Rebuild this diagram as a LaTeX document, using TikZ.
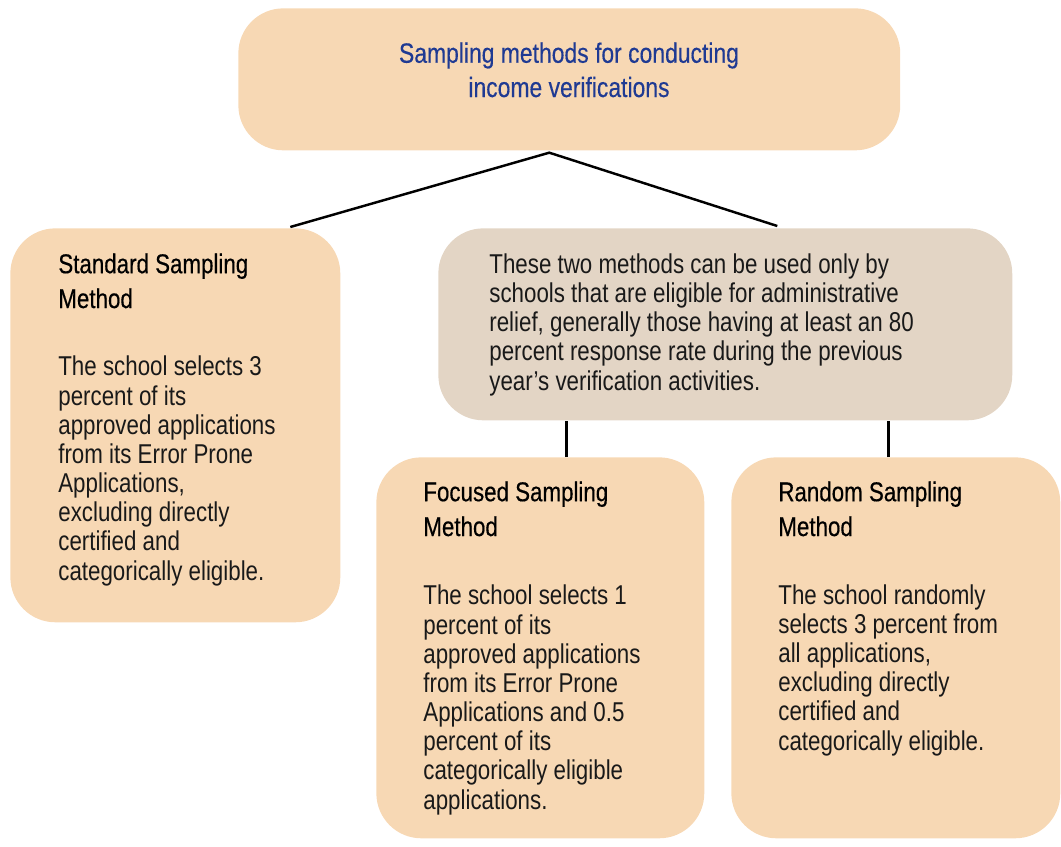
\documentclass[tikz,border=0pt]{standalone}
\usepackage{fontspec}
\setmainfont[FakeStretch=0.82]{Liberation Sans}
\newfontfamily\headfont[FakeStretch=0.82,FakeBold=0.4]{Liberation Sans}
\newfontfamily\titlefont[FakeStretch=0.82,FakeBold=0.3]{Liberation Sans}
\usetikzlibrary{calc}
\definecolor{peach}{HTML}{F7D8B4}
\definecolor{greybox}{HTML}{E3D5C5}
\definecolor{titleblue}{HTML}{1F3A93}
\begin{document}
\begin{tikzpicture}[x=0.02cm,y=-0.02cm,
  box/.style={rounded corners=0.9cm, draw=none, fill=peach, anchor=north west, inner sep=0},
  body/.style={anchor=base west, inner sep=0, align=left, font=\fontsize{15.5}{16.6}\selectfont, text=black!90},
  head/.style={anchor=base west, inner sep=0, align=left, font=\headfont\fontsize{15.5}{19.8}\selectfont, text=black},
  link/.style={line width=1.4pt, black}]
\useasboundingbox (0,0) rectangle (1061,846);
% boxes
\node[box, minimum width=13.24cm, minimum height=2.84cm] (top) at (238,8) {};
\node[box, minimum width=6.6cm, minimum height=7.88cm] (left) at (10,228) {};
\node[box, fill=greybox, minimum width=11.48cm, minimum height=3.84cm] (gray) at (438,228) {};
\node[box, minimum width=6.56cm, minimum height=7.62cm] (focused) at (376,457) {};
\node[box, minimum width=6.58cm, minimum height=7.62cm] (random) at (731,457) {};
% texts (anchor base = baseline of last line)
\node[anchor=base, inner sep=0, align=center, text=titleblue, font=\titlefont\fontsize{15.9}{19.5}\selectfont] (toptext) at (569,97) {Sampling methods for conducting\\income verifications};
\node[head] (lefthead) at (58,308) {Standard Sampling\\Method};
\node[body] (leftbody) at (58,580) {The school selects 3\\percent of its\\approved applications\\from its Error Prone\\Applications,\\excluding directly\\certified and\\categorically eligible.};
\node[body] (graytext) at (489,390) {These two methods can be used only by\\schools that are eligible for administrative\\relief, generally those having at least an 80\\percent response rate during the previous\\year’s verification activities.};
\node[head] (focusedhead) at (423,536) {Focused Sampling\\Method};
\node[body] (focusedbody) at (423,809) {The school selects 1\\percent of its\\approved applications\\from its Error Prone\\Applications and 0.5\\percent of its\\categorically eligible\\applications.};
\node[head] (randomhead) at (778,536) {Random Sampling\\Method};
\node[body] (randombody) at (778,750) {The school randomly\\selects 3 percent from\\all applications,\\excluding directly\\certified and\\categorically eligible.};
% connectors
\coordinate (apex) at ($(top.south)+(-20,2)$);
\coordinate (leftend) at ($(left.north)+(115,-1)$);
\coordinate (grayend) at ($(gray.north)+(52,-2)$);
\draw[link] (leftend) -- (apex) -- (grayend);
\coordinate (f1) at ($(focused.north)+(26,0)$);
\coordinate (r1) at ($(random.north)+(-7.5,0)$);
\draw[link] (f1) -- (f1 |- gray.south);
\draw[link] (r1) -- (r1 |- gray.south);
\end{tikzpicture}
\end{document}
